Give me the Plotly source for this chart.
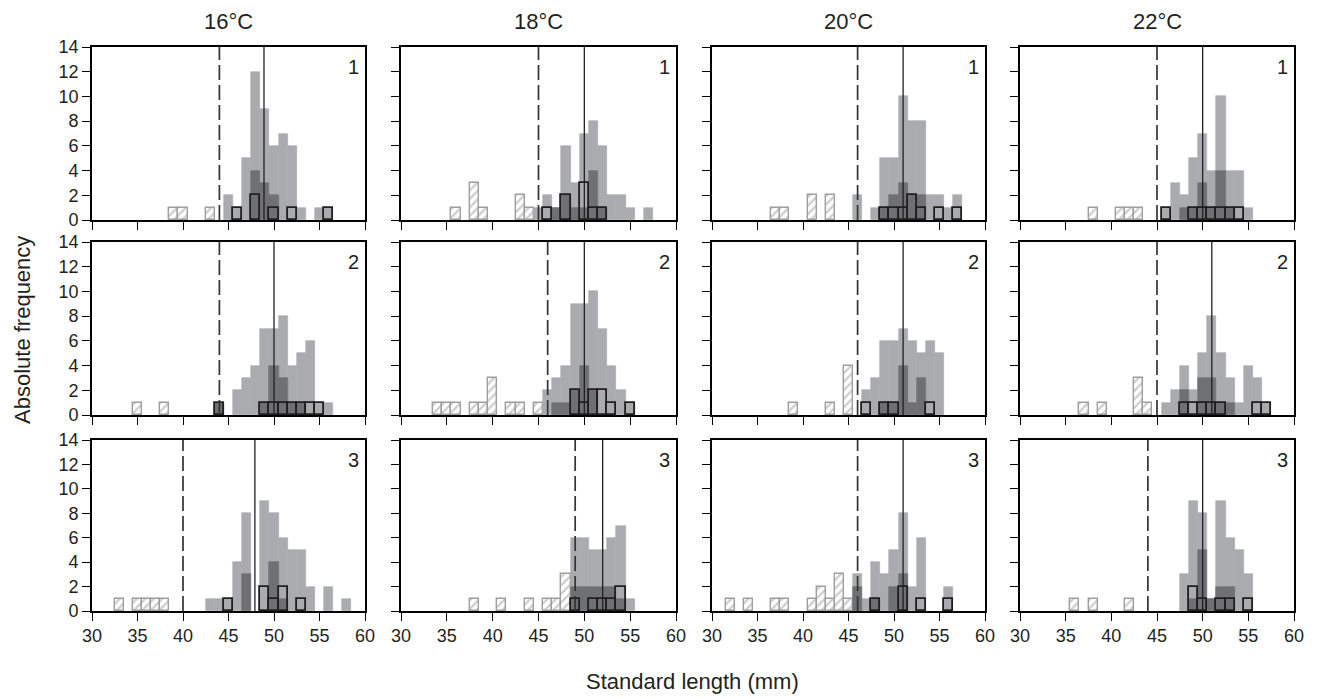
import plotly.graph_objects as go

TEMPS = ["16°C", "18°C", "20°C", "22°C"]
ROWS = ["1", "2", "3"]
X_TICKS = [30, 35, 40, 45, 50, 55, 60]
Y_TICKS = [0, 2, 4, 6, 8, 10, 12, 14]

# vertical reference lines (mm), rows x temperatures
dashed_line = [[44, 45, 46, 45], [44, 46, 46, 45], [40, 49, 46, 44]]
solid_line = [[48.9, 50, 51, 50], [50, 50, 51, 51], [47.9, 52, 51, 50]]

# counts per 1 mm bin: hatched, all fish, dark subset, outlined subset
# row 1
hatch_1_16 = {39: 1, 40: 1, 43: 1}
all_1_16 = {45: 2, 46: 1, 47: 5, 48: 12, 49: 9, 50: 6, 51: 7, 52: 6, 53: 1, 55: 1, 56: 1}
dark_1_16 = {48: 4, 49: 3, 50: 2}
box_1_16 = {46: 1, 48: 2, 50: 1, 52: 1, 56: 1}

hatch_1_18 = {36: 1, 38: 3, 39: 1, 43: 2, 44: 1}
all_1_18 = {45: 1, 46: 2, 47: 1, 48: 6, 49: 3, 50: 7, 51: 8, 52: 6, 53: 2, 54: 2, 55: 1, 57: 1}
dark_1_18 = {47: 1, 48: 2, 49: 1, 50: 1, 51: 4, 52: 1}
box_1_18 = {46: 1, 48: 2, 50: 3, 51: 1, 52: 1}

hatch_1_20 = {37: 1, 38: 1, 41: 2, 43: 2}
all_1_20 = {46: 2, 48: 1, 49: 5, 50: 5, 51: 10, 52: 8, 53: 8, 54: 2, 55: 2, 56: 1, 57: 2}
dark_1_20 = {49: 1, 50: 2, 51: 3, 52: 2, 53: 2}
box_1_20 = {49: 1, 50: 1, 51: 1, 52: 2, 53: 1, 55: 1, 57: 1}

hatch_1_22 = {38: 1, 41: 1, 42: 1, 43: 1}
all_1_22 = {46: 1, 47: 3, 48: 2, 49: 5, 50: 7, 51: 4, 52: 10, 53: 4, 54: 4, 55: 1}
dark_1_22 = {48: 1, 49: 1, 50: 3, 51: 1, 52: 4, 53: 1}
box_1_22 = {46: 1, 49: 1, 50: 1, 51: 1, 52: 1, 53: 1, 54: 1}

# row 2
hatch_2_16 = {35: 1, 38: 1}
all_2_16 = {44: 1, 46: 2, 47: 3, 48: 4, 49: 7, 50: 7, 51: 8, 52: 4, 53: 5, 54: 6, 55: 1, 56: 1}
dark_2_16 = {44: 1, 49: 1, 50: 4, 51: 3, 52: 1, 53: 1}
box_2_16 = {44: 1, 49: 1, 50: 1, 51: 1, 52: 1, 53: 1, 54: 1, 55: 1}

hatch_2_18 = {34: 1, 35: 1, 36: 1, 38: 1, 39: 1, 40: 3, 42: 1, 43: 1, 45: 1}
all_2_18 = {46: 2, 47: 3, 48: 4, 49: 9, 50: 9, 51: 10, 52: 7, 53: 4, 54: 2, 55: 1}
dark_2_18 = {47: 1, 48: 1, 49: 2, 50: 4, 51: 2}
box_2_18 = {49: 2, 50: 1, 51: 2, 52: 2, 53: 1, 55: 1}

hatch_2_20 = {39: 1, 43: 1, 45: 4}
all_2_20 = {47: 2, 48: 3, 49: 6, 50: 6, 51: 7, 52: 6, 53: 5, 54: 6, 55: 5}
dark_2_20 = {49: 1, 50: 1, 51: 4, 52: 1, 53: 3}
box_2_20 = {47: 1, 49: 1, 50: 1, 54: 1}

hatch_2_22 = {37: 1, 39: 1, 43: 3, 44: 1}
all_2_22 = {46: 1, 47: 2, 48: 4, 49: 2, 50: 5, 51: 8, 52: 5, 53: 3, 54: 1, 55: 4, 56: 3, 57: 1}
dark_2_22 = {48: 2, 50: 3, 51: 3, 52: 1, 53: 1}
box_2_22 = {48: 1, 49: 1, 50: 1, 51: 1, 52: 1, 56: 1, 57: 1}

# row 3
hatch_3_16 = {33: 1, 35: 1, 36: 1, 37: 1, 38: 1}
all_3_16 = {43: 1, 44: 1, 45: 1, 46: 4, 47: 8, 49: 9, 50: 8, 51: 6, 52: 5, 53: 5, 54: 2, 56: 2, 58: 1}
dark_3_16 = {47: 3, 50: 4, 51: 1}
box_3_16 = {45: 1, 49: 2, 50: 1, 51: 2, 53: 1}

hatch_3_18 = {38: 1, 41: 1, 44: 1, 46: 1, 47: 1, 48: 3}
all_3_18 = {49: 6, 50: 6, 51: 5, 52: 5, 53: 6, 54: 7, 55: 1}
dark_3_18 = {49: 2, 50: 2, 51: 2, 52: 2, 53: 2, 54: 1}
box_3_18 = {49: 1, 51: 1, 52: 1, 53: 1, 54: 2}

hatch_3_20 = {32: 1, 34: 1, 37: 1, 38: 1, 41: 1, 42: 2, 43: 1, 44: 3, 45: 1}
all_3_20 = {46: 3, 47: 1, 48: 4, 49: 3, 50: 5, 51: 8, 52: 2, 53: 6, 56: 2}
dark_3_20 = {46: 2, 48: 1, 50: 2, 51: 3}
box_3_20 = {48: 1, 51: 2, 53: 1, 56: 1}

hatch_3_22 = {36: 1, 38: 1, 42: 1}
all_3_22 = {48: 3, 49: 9, 50: 8, 51: 1, 52: 9, 53: 6, 54: 5, 55: 3}
dark_3_22 = {49: 1, 50: 5, 51: 1, 52: 2, 53: 2}
box_3_22 = {49: 2, 50: 1, 52: 1, 53: 1, 55: 1}

hatch = [[hatch_1_16, hatch_1_18, hatch_1_20, hatch_1_22],
         [hatch_2_16, hatch_2_18, hatch_2_20, hatch_2_22],
         [hatch_3_16, hatch_3_18, hatch_3_20, hatch_3_22]]
allfish = [[all_1_16, all_1_18, all_1_20, all_1_22],
           [all_2_16, all_2_18, all_2_20, all_2_22],
           [all_3_16, all_3_18, all_3_20, all_3_22]]
dark = [[dark_1_16, dark_1_18, dark_1_20, dark_1_22],
        [dark_2_16, dark_2_18, dark_2_20, dark_2_22],
        [dark_3_16, dark_3_18, dark_3_20, dark_3_22]]
boxed = [[box_1_16, box_1_18, box_1_20, box_1_22],
         [box_2_16, box_2_18, box_2_20, box_2_22],
         [box_3_16, box_3_18, box_3_20, box_3_22]]

W, H = 1320, 699
# plot area in pixels; page body adds an 8px offset
ML, MR, MT, MB = 70, 10, 36, 70
OFF = 8
PW, PH = W - ML - MR, H - MT - MB
FONT = "Liberation Sans, Arial, sans-serif"
INK = "#231f20"
LIGHT = "#a9abae"
DARK = "#6f7073"
HATCH = "#9e9e9e"


def px_x(p):
    return (p - OFF - ML) / PW


def px_y(p):
    return (H - MB - (p - OFF)) / PH


# panel pixel boxes (screen)
col_px = [(92, 365), (401, 676), (712, 985), (1020, 1294)]
row_px = [(47, 220), (242, 415), (440, 611)]

fig = go.Figure()
layout = {}
for r in range(3):
    for c in range(4):
        k = r * 4 + c + 1
        xa = "x" if k == 1 else f"x{k}"
        ya = "y" if k == 1 else f"y{k}"
        xkey = "xaxis" if k == 1 else f"xaxis{k}"
        ykey = "yaxis" if k == 1 else f"yaxis{k}"

        def add(d, **kw):
            fig.add_trace(go.Bar(x=list(d.keys()), y=list(d.values()), width=1,
                                 xaxis=xa, yaxis=ya, showlegend=False, **kw))

        add(hatch[r][c], marker=dict(color="white", line=dict(color=HATCH, width=1.4),
                                     pattern=dict(shape="/", fgcolor=HATCH, bgcolor="white",
                                                  size=6, solidity=0.4)))
        add(allfish[r][c], marker=dict(color=LIGHT, line=dict(color=LIGHT, width=0.6)))
        add(dark[r][c], marker=dict(color=DARK, line=dict(color=DARK, width=0.6)))
        add(boxed[r][c], marker=dict(color="rgba(0,0,0,0)", line=dict(color=INK, width=1.8)))

        x0, x1 = col_px[c]
        y0, y1 = row_px[r]
        common = dict(ticks="outside", ticklen=8, tickwidth=1.2, tickcolor="black",
                      showline=True, linecolor="black", linewidth=1.6, mirror=True,
                      showgrid=False, zeroline=False, automargin=False,
                      tickfont=dict(family=FONT, size=18, color=INK))
        layout[xkey] = dict(domain=[px_x(x0), px_x(x1)], range=[30, 60], anchor=ya,
                            tickvals=X_TICKS, showticklabels=(r == 2), **common)
        layout[ykey] = dict(domain=[px_y(y1), px_y(y0)], range=[0, 14], anchor=xa,
                            tickvals=Y_TICKS, showticklabels=(c == 0), **common)

        xd = xa + " domain"
        yd = ya + " domain"
        fig.add_shape(type="line", xref=xa, yref=yd, x0=dashed_line[r][c], x1=dashed_line[r][c],
                      y0=0, y1=1, line=dict(color="#333333", width=1.7, dash="15px,5px"))
        fig.add_shape(type="line", xref=xa, yref=yd, x0=solid_line[r][c], x1=solid_line[r][c],
                      y0=0, y1=1, line=dict(color=INK, width=1.3))
        fig.add_annotation(xref=xd, yref=yd, x=0.985, y=0.96, text=ROWS[r], showarrow=False,
                           xanchor="right", yanchor="top",
                           font=dict(family=FONT, size=20, color=INK))
        if r == 0:
            fig.add_annotation(xref=xd, yref="paper", x=0.5, y=px_y(22), text=TEMPS[c],
                               showarrow=False, xanchor="center", yanchor="middle",
                               font=dict(family=FONT, size=22, color=INK))

fig.add_annotation(xref="paper", yref="paper", x=px_x(22), y=px_y(330), text="Absolute frequency",
                   textangle=-90, showarrow=False, xanchor="center", yanchor="middle",
                   font=dict(family=FONT, size=22, color=INK))
fig.add_annotation(xref="paper", yref="paper", x=px_x(692), y=px_y(681), text="Standard length (mm)",
                   showarrow=False, xanchor="center", yanchor="middle",
                   font=dict(family=FONT, size=22, color=INK))

fig.update_layout(**layout)
fig.update_layout(width=W, height=H, barmode="overlay", bargap=0,
                  margin=dict(l=ML, r=MR, t=MT, b=MB, autoexpand=False),
                  plot_bgcolor="white", paper_bgcolor="white", showlegend=False)

fig.write_html("out.html")
